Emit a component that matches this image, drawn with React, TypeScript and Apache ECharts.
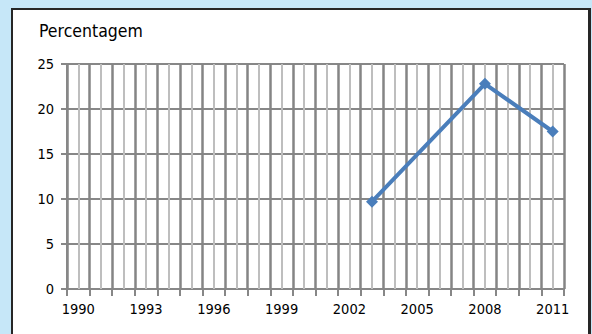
import React, { useEffect, useRef } from "react";
import * as echarts from "echarts";

const years: string[] = [];
for (let y = 1990; y <= 2011; y++) years.push(String(y));
const obsYears = ["2003", "2008", "2011"];
const obsValues = [9.7, 22.8, 17.5];
const yTicks = { min: 0, max: 25, interval: 5 };
const titleText = "Percentagem";

const FONT = "'DejaVu Sans Condensed', 'DejaVu Sans', sans-serif";

export default function App() {
  const ref = useRef<HTMLDivElement>(null);
  useEffect(() => {
    if (!ref.current) return;
    const chart = echarts.init(ref.current, undefined, { renderer: "svg" });
    const seriesData = years.map((y) => {
      const i = obsYears.indexOf(y);
      return i >= 0 ? obsValues[i] : null;
    });
    chart.setOption({
      animation: false,
      backgroundColor: "transparent",
      title: {
        text: titleText,
        left: 34,
        top: 17,
        textStyle: { fontFamily: FONT, fontSize: 17.5, fontWeight: "normal", color: "#000" },
      },
      grid: { left: 67, right: 28, top: 64, bottom: 45 },
      xAxis: {
        type: "category",
        data: years,
        boundaryGap: true,
        axisLine: { show: true, lineStyle: { color: "#878787", width: 2 } },
        axisTick: { show: true, interval: 0, length: 7, lineStyle: { color: "#878787", width: 2 } },
        axisLabel: { interval: 2, margin: 12, fontFamily: FONT, fontSize: 14.5, color: "#000" },
        splitLine: { show: true, interval: 0, lineStyle: { color: "#858585", width: 2.5 } },
      },
      yAxis: {
        type: "value",
        min: yTicks.min,
        max: yTicks.max,
        interval: yTicks.interval,
        axisLine: { show: true, lineStyle: { color: "#878787", width: 2 } },
        axisTick: { show: true, length: 6, lineStyle: { color: "#878787", width: 2 } },
        axisLabel: { margin: 13, fontFamily: FONT, fontSize: 14.5, color: "#000" },
        splitLine: { show: true, lineStyle: { color: "#878787", width: 2 } },
      },
      series: [
        {
          type: "line",
          data: [],
          silent: true,
          z: 1,
          markLine: {
            silent: true,
            symbol: ["none", "none"],
            label: { show: false },
            lineStyle: { color: "#bebebe", width: 2, type: "solid" },
            data: years.map((y) => ({ xAxis: y })),
          },
        },
        {
          type: "line",
          data: seriesData,
          connectNulls: true,
          z: 5,
          symbol: "diamond",
          symbolSize: 12,
          lineStyle: { color: "#4a7ebb", width: 4 },
          itemStyle: { color: "#4a7ebb" },
        },
      ],
    });
    return () => chart.dispose();
  }, []);
  return (
    <div style={{ position: "fixed", left: 0, top: 0, width: 592, height: 334, background: "#c6e7f8", overflow: "hidden" }}>
      <div
        style={{
          position: "absolute",
          left: 11,
          top: 8,
          width: 575,
          height: 340,
          background: "#fff",
          border: "2px solid #262626",
          borderRightWidth: 3,
        }}
      />
      <div ref={ref} style={{ position: "absolute", left: 0, top: 0, width: 592, height: 334 }} />
    </div>
  );
}
